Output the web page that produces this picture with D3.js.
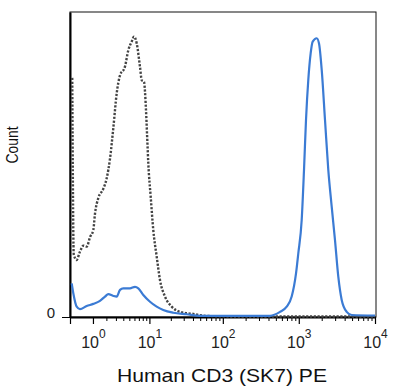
<!DOCTYPE html>
<html>
<head>
<meta charset="utf-8">
<script src="https://cdn.jsdelivr.net/npm/d3@7"></script>
<style>
  body { margin: 0; background: #fff; }
  svg { display: block; font-family: Arial, "Liberation Sans", sans-serif; }
</style>
</head>
<body>
<div id="chart"></div>
<script>
// isotype / unstained control (dotted grey)
var controlX = [0.07, 0.12, 0.22, 0.35, 0.5, 0.66, 0.83, 1.02, 1.13, 1.35, 1.73, 2.03, 2.35, 2.7, 3.1, 3.5,
  4.26, 4.82, 5.45, 5.91, 6.5, 7.28, 7.72, 8.34, 8.92, 9.32, 9.64, 10.44, 11.37, 12.71, 14.15, 16.62,
  20.57, 26.7, 40.4, 49.7, 67.6, 200, 1000, 10000];
var controlCount = [78.4, 20.5, 18.7, 21.4, 23.4, 23.1, 26.2, 28.5, 34, 39, 42, 45.5, 52, 62, 73.4, 79,
  82.1, 87.5, 90.3, 91.9, 89.7, 82.0, 77.7, 77.1, 67.9, 58.0, 50.4, 39.4, 28.5, 19.8, 12.1, 6.7,
  3.4, 1.7, 1.0, 0.6, 0.3, 0.15, 0.15, 0.15];

// CD3 (SK7) PE stained cells (blue)
var stainedX = [0.053, 0.105, 0.224, 0.352, 0.656, 1.02, 1.47, 1.88, 2.18, 2.7, 3.1, 3.53, 4.0, 5.12, 6.12,
  6.87, 8.15, 10.2, 12.7, 15.7, 21.6, 32.9, 49.7, 150, 419, 567, 694, 807, 920, 986, 1092, 1171, 1244,
  1333, 1433, 1523, 1720, 1843, 2000, 2209, 2440, 2704, 2987, 3300, 3657, 4254, 4947, 10000];
var stainedCount = [11.0, 7.8, 3.4, 2.6, 3.6, 4.3, 5.3, 6.7, 7.5, 6.9, 6.7, 8.9, 9.4, 9.4, 9.9,
  9.4, 7.2, 5.0, 3.4, 2.3, 1.4, 0.9, 0.4, 0.4, 0.4, 1.7, 3.4, 6.7, 14.3, 20.9, 31.8, 48.2, 64.6,
  77.7, 86.5, 90.3, 91.4, 89.7, 81.0, 64.6, 48.2, 36.2, 25.2, 13.2, 5.6, 1.7, 0.66, 0.5];

var majorTicks = [1, 10, 100, 1000, 10000];
var majorExponents = ["0", "1", "2", "3", "4"];
var yTicks = [0];

var svgWidth = 398;
var svgHeight = 391;
var margin = { top: 12, right: 22, bottom: 74, left: 70 };
var width = svgWidth - margin.left - margin.right;
var height = svgHeight - margin.top - margin.bottom;

var svg = d3.select("#chart").append("svg")
  .attr("width", svgWidth)
  .attr("height", svgHeight);

var chartGroup = svg.append("g")
  .attr("transform", `translate(${margin.left}, ${margin.top})`);

var xScale = d3.scaleSymlog().constant(1)
  .domain([0, 10000])
  .range([0, width - 1]);

var yScale = d3.scaleLinear()
  .domain([0, 100])
  .range([height, 0]);

// frame
chartGroup.append("rect")
  .attr("x", 0).attr("y", 0)
  .attr("width", width).attr("height", height)
  .attr("fill", "none")
  .attr("stroke", "#111")
  .attr("stroke-width", 1);

// minor ticks 2..9 of each decade
var minorTicks = [];
majorTicks.slice(0, 4).forEach(function (d) {
  for (var k = 2; k <= 9; k++) minorTicks.push(k * d);
});

chartGroup.append("g")
  .attr("transform", `translate(0, ${height})`)
  .call(d3.axisBottom(xScale).tickValues(minorTicks).tickSize(4).tickSizeOuter(0).tickFormat(""))
  .call(function (g) { g.select(".domain").remove(); });

var xAxis = chartGroup.append("g")
  .attr("transform", `translate(0, ${height})`)
  .call(d3.axisBottom(xScale).tickValues([0].concat(majorTicks)).tickSize(7).tickSizeOuter(0));

xAxis.select(".domain").attr("stroke", "#000").attr("stroke-width", 2);
xAxis.selectAll(".tick line").attr("stroke", "#000").attr("stroke-width", 1.2);
xAxis.selectAll(".tick text").each(function (d) {
  var t = d3.select(this).text(null)
    .attr("y", 31).attr("dy", 0)
    .attr("fill", "#222")
    .style("font-size", "16px");
  var i = majorTicks.indexOf(d);
  if (i < 0) return;
  t.append("tspan").text("10");
  t.append("tspan").text(majorExponents[i]).attr("dy", -10).style("font-size", "12px");
});

var yAxis = chartGroup.append("g")
  .call(d3.axisLeft(yScale).tickValues(yTicks).tickSize(8).tickPadding(7).tickSizeOuter(0).tickFormat(d3.format("d")));

yAxis.select(".domain").attr("stroke", "#000").attr("stroke-width", 2);
yAxis.selectAll(".tick line").attr("stroke", "#000");
yAxis.selectAll(".tick text")
  .attr("dy", 0)
  .attr("fill", "#222")
  .style("font-size", "15px");

var line = d3.line()
  .x((d) => xScale(d[0]))
  .y((d) => yScale(d[1]))
  .curve(d3.curveMonotoneX);

chartGroup.append("path")
  .datum(d3.zip(controlX, controlCount))
  .attr("d", line)
  .attr("fill", "none")
  .attr("stroke", "#444")
  .attr("stroke-width", 2.4)
  .attr("stroke-dasharray", "2.2,1.6");

chartGroup.append("path")
  .datum(d3.zip(stainedX, stainedCount))
  .attr("d", line)
  .attr("fill", "none")
  .attr("stroke", "#3b7bd4")
  .attr("stroke-width", 2.2);

// axis titles
chartGroup.append("text")
  .text("Human CD3 (SK7) PE")
  .attr("x", 152)
  .attr("y", 370)
  .attr("text-anchor", "middle")
  .attr("textLength", 210)
  .attr("lengthAdjust", "spacingAndGlyphs")
  .attr("fill", "#111")
  .style("font-size", "18.5px");

chartGroup.append("text")
  .text("Count")
  .attr("transform", `translate(-52, 133) scale(1.15, 1) rotate(-90)`)
  .attr("text-anchor", "middle")
  .attr("textLength", 37)
  .attr("lengthAdjust", "spacingAndGlyphs")
  .attr("fill", "#111")
  .style("font-size", "15px");
</script>
</body>
</html>
